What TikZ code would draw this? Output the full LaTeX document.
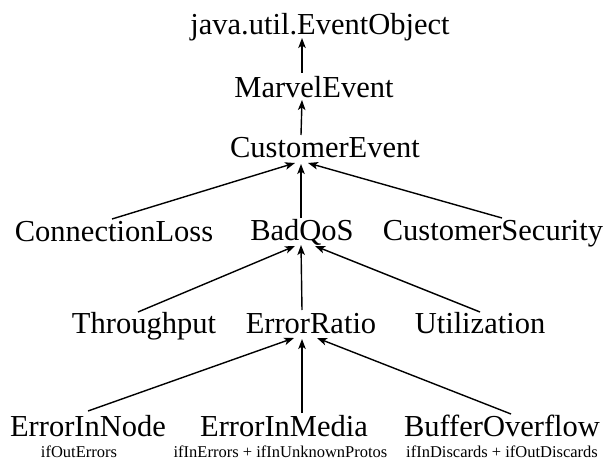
\documentclass[tikz,border=0pt]{standalone}
\usepackage{fontspec}
\setmainfont{Liberation Serif}
\usetikzlibrary{arrows.meta}
\begin{document}
\begin{tikzpicture}[x=1pt,y=-1pt,
  cls/.style={anchor=base,inner sep=0pt,font=\fontsize{30.5}{36}\selectfont},
  sub/.style={anchor=base,inner sep=0pt,font=\fontsize{16.5}{19}\selectfont},
  arr/.style={line width=1.4pt,-{Stealth[length=10pt,width=7.5pt,inset=2.5pt]}}]
\useasboundingbox (0,0) rectangle (616,460);
% class nodes
\node[cls] (java) at (320,35) {java.util.EventObject};
\node[cls] (marvel) at (314,97) {MarvelEvent};
\node[cls] (ce) at (325,157) {CustomerEvent};
\node[cls] (cl) at (114,241) {ConnectionLoss};
\node[cls] (bq) at (302,240) {BadQoS};
\node[cls] (cs) at (493,240) {CustomerSecurity};
\node[cls] (tp) at (144,333) {Throughput};
\node[cls] (er) at (311,333) {ErrorRatio};
\node[cls] (ut) at (480,333) {Utilization};
\node[cls] (ein) at (88,436) {ErrorInNode};
\node[cls] (eim) at (284,436) {ErrorInMedia};
\node[cls] (bo) at (502,436) {BufferOverflow};
% sub labels
\node[sub] (l1) at (79,457) {ifOutErrors};
\node[sub] (l2) at (280.5,457) {ifInErrors + ifInUnknownProtos};
\node[sub,anchor=base west] (l3) at (406,457) {ifInDiscards + ifOutDiscards};
% edges
\draw[arr] ([xshift=-12pt,yshift=24pt]marvel.base) -- ([xshift=-18pt,yshift=-3pt]java.base);
\draw[arr] ([xshift=-24pt,yshift=22pt]ce.base) -- ([xshift=-12pt,yshift=-3pt]marvel.base);
\draw[arr] ([xshift=-2pt,yshift=22pt]cl.base) -- ([xshift=-30pt,yshift=-6pt]ce.base);
\draw[arr] ([xshift=-1pt,yshift=22pt]bq.base) -- ([xshift=-24pt,yshift=-7pt]ce.base);
\draw[arr] ([xshift=9pt,yshift=22pt]cs.base) -- ([xshift=-17pt,yshift=-6pt]ce.base);
\draw[arr] ([xshift=-6pt,yshift=21pt]tp.base) -- ([xshift=-7pt,yshift=-6pt]bq.base);
\draw[arr] ([xshift=-9pt,yshift=23pt]er.base) -- ([xshift=-1pt,yshift=-5pt]bq.base);
\draw[arr] ([xshift=0pt,yshift=21pt]ut.base) -- ([xshift=13pt,yshift=-6pt]bq.base);
\draw[arr] ([xshift=0pt,yshift=25pt]ein.base) -- ([xshift=-17pt,yshift=-5pt]er.base);
\draw[arr] ([xshift=18pt,yshift=23pt]eim.base) -- ([xshift=-9pt,yshift=-6pt]er.base);
\draw[arr] ([xshift=9pt,yshift=22pt]bo.base) -- ([xshift=6pt,yshift=-5pt]er.base);
\end{tikzpicture}
\end{document}
